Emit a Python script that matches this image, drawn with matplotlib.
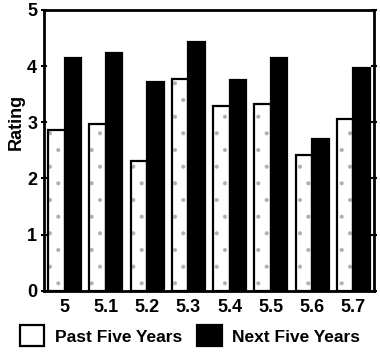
import matplotlib.pyplot as plt
import numpy as np
from matplotlib.patches import Patch

plt.rcParams['font.family'] = ['Liberation Sans', 'DejaVu Sans']
plt.rcParams['font.weight'] = 'bold'
plt.rcParams['hatch.linewidth'] = 0.5

# Ratings
categories = ['5', '5.1', '5.2', '5.3', '5.4', '5.5', '5.6', '5.7']
past_five = [2.86, 2.97, 2.31, 3.77, 3.29, 3.33, 2.42, 3.06]
next_five = [4.15, 4.24, 3.72, 4.43, 3.75, 4.15, 2.70, 3.97]

x = np.arange(len(categories))
w = 0.4

fig = plt.figure(figsize=(3.8, 3.56), dpi=100)
ax = fig.add_axes([0.116, 0.183, 0.868, 0.789])

# light stipple underneath, black outline on top
ax.bar(x - w / 2, past_five, width=w, facecolor='white', edgecolor='#b0b0b0',
       linewidth=0, hatch='.')
ax.bar(x - w / 2, past_five, width=w, fill=False, edgecolor='black',
       linewidth=1.6)
ax.bar(x + w / 2, next_five, width=w, facecolor='black', edgecolor='black',
       linewidth=1.6)

ax.set_xlim(-0.5, len(categories) - 0.5)
ax.set_ylim(0, 5)
ax.set_yticks([0, 1, 2, 3, 4, 5])
ax.set_xticks(x)
ax.set_xticklabels(categories)
ax.set_ylabel('Rating', fontsize=13, fontweight='bold')
ax.yaxis.set_label_coords(-0.058, 0.6)

for s in ax.spines.values():
    s.set_linewidth(2)
ax.tick_params(axis='x', length=0, labelsize=13, pad=6)
ax.tick_params(axis='y', length=4, width=1.5, labelsize=13, right=True,
               direction='inout', pad=3)

# legend
handles = [Patch(facecolor='white', edgecolor='black', linewidth=1.6),
           Patch(facecolor='black', edgecolor='black', linewidth=1.6)]
fig.legend(handles, ['Past Five Years', 'Next Five Years'],
           loc='lower center', bbox_to_anchor=(0.5, -0.017), ncol=2,
           frameon=False, fontsize=12.5, handlelength=1.4, handleheight=1.5,
           columnspacing=0.9, handletextpad=0.6)

plt.savefig('out.png', dpi=100)
plt.close()
